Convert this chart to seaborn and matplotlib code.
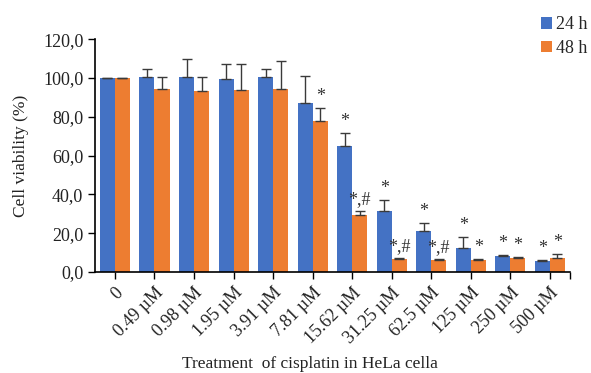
import matplotlib
matplotlib.use("Agg")
import matplotlib.pyplot as plt
import pandas as pd
import seaborn as sns

# Cisplatin concentrations tested on HeLa cells
concentrations = ["0", "0.49 µM", "0.98 µM", "1.95 µM", "3.91 µM", "7.81 µM",
                  "15.62 µM", "31.25 µM", "62.5 µM", "125 µM", "250 µM", "500 µM"]
time_points = ["24 h", "48 h"]

# Mean cell viability (%) and standard deviation
viab_24 = [100.0, 100.5, 100.5, 99.6, 100.5, 86.9, 65.0, 31.6, 21.1, 12.2, 8.1, 5.8]
sd_24 = [0.2, 4.0, 9.1, 7.4, 4.3, 14.0, 6.5, 5.5, 4.3, 6.0, 0.5, 0.4]
viab_48 = [100.0, 94.5, 93.1, 93.6, 94.5, 77.8, 29.4, 6.5, 6.2, 6.2, 7.1, 7.4]
sd_48 = [0.2, 6.0, 7.4, 13.4, 14.4, 6.9, 2.2, 0.9, 0.3, 0.7, 0.6, 1.7]

# Significance markers
sig_24 = ["", "", "", "", "", "", "*", "*", "*", "*", "*", "*"]
sig_48 = ["", "", "", "", "", "*", "*,#", "*,#", "*,#", "*", "*", "*"]

colors = ["#4472C4", "#ED7D31"]

df = pd.DataFrame({
    "conc": concentrations * 2,
    "viability": viab_24 + viab_48,
    "time": [time_points[0]] * len(concentrations) + [time_points[1]] * len(concentrations),
})

sns.set_style("ticks")
plt.rcParams["font.family"] = ["Liberation Serif", "DejaVu Serif"]

fig = plt.figure(figsize=(5.91, 3.73), dpi=100)
ax = fig.add_axes([0.161, 0.271, 0.803, 0.624])

sns.barplot(data=df, x="conc", y="viability", hue="time", order=concentrations,
            hue_order=time_points, palette=colors, saturation=1, width=0.76,
            errorbar=None, linewidth=0, ax=ax, legend=True)

for container, sds, sigs in zip(ax.containers, [sd_24, sd_48], [sig_24, sig_48]):
    for patch, sd, sig in zip(container.patches, sds, sigs):
        xc = patch.get_x() + patch.get_width() / 2
        h = patch.get_height()
        ax.errorbar(xc, h, yerr=[[0], [sd]], fmt="none", ecolor="#3a3a3a",
                    elinewidth=1.0, capsize=3.5, capthick=1.0, zorder=3)
        if sig:
            ax.annotate(sig, (xc, h + sd), xytext=(0, 2), textcoords="offset points",
                        ha="center", va="bottom", fontsize=13, color="#333333")

ax.set_ylim(0, 120)
ax.set_xlim(-0.5, len(concentrations) - 0.5)
ax.set_yticks(range(0, 121, 20))
ax.set_yticklabels([f"{v},0" for v in range(0, 121, 20)])
ax.set_xticks(range(len(concentrations)))
ax.set_xticks([len(concentrations) - 0.5], minor=True)
ax.set_xticklabels(concentrations, rotation=45, ha="right", rotation_mode="anchor")
ax.tick_params(axis="both", which="both", direction="out", length=5, width=1.0,
               colors="black", labelsize=13, labelcolor="#222222")
ax.tick_params(axis="x", pad=4)

for side in ["top", "right"]:
    ax.spines[side].set_visible(False)
for side in ["left", "bottom"]:
    ax.spines[side].set_color("black")
    ax.spines[side].set_linewidth(1.2)

ax.set_xlabel("Treatment  of cisplatin in HeLa cella", fontsize=12.5, color="#222222")
ax.set_ylabel("Cell viability (%)", fontsize=12.5, color="#222222")
ax.xaxis.set_label_coords(0.453, -0.36)
ax.yaxis.set_label_coords(-0.14, 0.5)

handles, labels = ax.get_legend_handles_labels()
ax.legend(handles, labels, loc="upper right", bbox_to_anchor=(1.016, 0.99),
          bbox_transform=fig.transFigure, frameon=False, fontsize=13,
          handlelength=0.6, handleheight=0.6, handletextpad=0.25, labelspacing=0.35,
          borderpad=0.2)

fig.savefig("out.png", dpi=100)
